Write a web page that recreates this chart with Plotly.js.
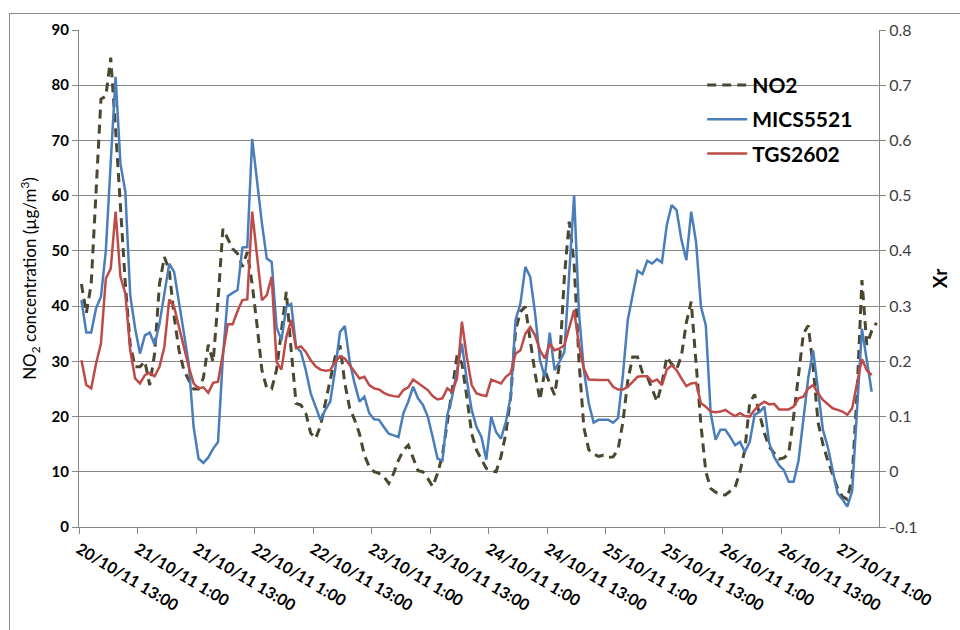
<!DOCTYPE html>
<html>
<head>
<meta charset="utf-8">
<script src="https://cdn.plot.ly/plotly-3.0.1.min.js"></script>
<style>
  html, body { margin: 0; padding: 0; background: #ffffff; overflow: hidden; }
  #frame { position: absolute; left: 9px; top: 13px; width: 1000px; height: 700px; border: 1px solid #8c8c8c; box-sizing: border-box; }
  #chart { position: absolute; left: 0; top: 0; width: 960px; height: 630px; }
</style>
</head>
<body>
<div id="frame"></div>
<div id="chart"></div>
<script>
// Hourly samples starting 20/10/11 13:00
const startUTC = Date.UTC(2011, 9, 20, 13, 0);

// NO2 concentration (µg/m³), left axis
const no2 = [
  44, 38.7, 44, 62, 77.5, 78, 85, 72, 57, 44,
  33, 29, 29, 30, 25.7, 31.4, 44, 48.9, 46.5, 38.1,
  32, 28.4, 26.6, 25, 25, 27, 33, 29.9, 41, 54,
  52.2, 50.4, 49.5, 47.1, 49.8, 44, 36.5, 28.4, 25.1, 25,
  28.5, 36, 42.6, 32, 22.4, 22.1, 20.6, 17, 16, 18.3,
  22.4, 26.6, 30.8, 32.9, 26, 21.5, 19.4, 16.9, 13, 10.9,
  10, 9.7, 9.1, 7.9, 9.7, 12.1, 13.9, 14.8, 12.4, 10.2,
  10, 8.8, 7.3, 9.7, 13, 18.7, 24.8, 31.1, 29.6, 23.6,
  16.9, 13.9, 12.1, 10.6, 10.2, 10, 12.7, 16.9, 23.6, 35.6,
  39, 39.9, 33.8, 27.8, 23, 28.4, 26, 23.9, 29.6, 45.3,
  55.3, 47.7, 30, 18, 14, 13.2, 12.8, 13, 12.6, 12.7,
  14, 19, 26.5, 30.8, 30.8, 28, 27.2, 25, 22.7, 26,
  30.8, 29.5, 28.5, 31, 37, 40.8, 30, 18.5, 10, 7,
  6.3, 5.9, 5.8, 6.5, 7.2, 10, 14, 22.5, 24, 20.5,
  17, 14.5, 13.3, 12.3, 12.5, 13.3, 20, 28, 35, 36.5,
  29, 19, 15, 12, 9.5, 7, 5.5, 5, 9, 24.2,
  44.7, 33, 35.5, 37
];

// MICS5521 response Xr, right axis
const mics = [
  0.311, 0.252, 0.252, 0.296, 0.317, 0.40, 0.56, 0.715, 0.558, 0.507,
  0.32, 0.26, 0.214, 0.247, 0.252, 0.23, 0.268, 0.323, 0.377, 0.362,
  0.305, 0.25, 0.196, 0.081, 0.024, 0.016, 0.026, 0.042, 0.054, 0.208,
  0.318, 0.324, 0.329, 0.406, 0.407, 0.603, 0.522, 0.45, 0.386, 0.38,
  0.262, 0.238, 0.299, 0.304, 0.226, 0.217, 0.184, 0.142, 0.118, 0.094,
  0.112, 0.127, 0.184, 0.253, 0.264, 0.199, 0.16, 0.127, 0.136, 0.106,
  0.095, 0.094, 0.081, 0.069, 0.066, 0.063, 0.106, 0.127, 0.154, 0.133,
  0.121, 0.10, 0.063, 0.024, 0.02, 0.103, 0.136, 0.181, 0.232, 0.166,
  0.112, 0.081, 0.063, 0.022, 0.10, 0.072, 0.06, 0.09, 0.136, 0.275,
  0.305, 0.371, 0.353, 0.287, 0.202, 0.172, 0.252, 0.184, 0.199, 0.217,
  0.353, 0.501, 0.287, 0.184, 0.124, 0.089, 0.094, 0.094, 0.094, 0.089,
  0.097, 0.175, 0.275, 0.32, 0.364, 0.358, 0.382, 0.377, 0.385, 0.379,
  0.447, 0.483, 0.474, 0.42, 0.383, 0.471, 0.416, 0.299, 0.265, 0.106,
  0.058, 0.076, 0.076, 0.063, 0.048, 0.054, 0.036, 0.054, 0.103, 0.108,
  0.118, 0.052, 0.027, 0.012, 0.003, -0.018, -0.018, 0.02, 0.10, 0.17,
  0.22, 0.145, 0.076, 0.045, 0.0, -0.039, -0.05, -0.063, -0.035, 0.12,
  0.259, 0.202, 0.145
];

// TGS2602 response Xr, right axis
const tgs = [
  0.202, 0.157, 0.151, 0.196, 0.232, 0.35, 0.368, 0.471, 0.353, 0.323,
  0.22, 0.169, 0.16, 0.175, 0.179, 0.173, 0.19, 0.226, 0.312, 0.299,
  0.262, 0.226, 0.19, 0.16, 0.151, 0.153, 0.143, 0.161, 0.163, 0.214,
  0.267, 0.267, 0.291, 0.311, 0.312, 0.471, 0.389, 0.311, 0.32, 0.353,
  0.199, 0.185, 0.244, 0.275, 0.224, 0.227, 0.217, 0.202, 0.191, 0.185,
  0.183, 0.184, 0.199, 0.209, 0.205, 0.193, 0.181, 0.169, 0.172, 0.157,
  0.151, 0.149, 0.143, 0.139, 0.137, 0.136, 0.148, 0.153, 0.167, 0.161,
  0.155, 0.148, 0.137, 0.131, 0.133, 0.151, 0.145, 0.169, 0.272, 0.208,
  0.157, 0.142, 0.139, 0.137, 0.167, 0.163, 0.16, 0.172, 0.179, 0.214,
  0.22, 0.25, 0.262, 0.247, 0.22, 0.205, 0.232, 0.22, 0.223, 0.229,
  0.262, 0.293, 0.229, 0.187, 0.167, 0.166, 0.166, 0.166, 0.166, 0.154,
  0.149, 0.149, 0.154, 0.163, 0.172, 0.173, 0.173, 0.163, 0.167, 0.157,
  0.185, 0.193, 0.184, 0.169, 0.155, 0.16, 0.161, 0.124, 0.118, 0.109,
  0.108, 0.109, 0.112, 0.106, 0.101, 0.106, 0.101, 0.10, 0.112, 0.121,
  0.127, 0.122, 0.123, 0.113, 0.113, 0.113, 0.118, 0.133, 0.136, 0.151,
  0.157, 0.142, 0.13, 0.122, 0.115, 0.112, 0.109, 0.103, 0.115, 0.16,
  0.204, 0.184, 0.175
];

// Category axis tick labels (every 12 hours)
const tickLabels = [
  '20/10/11 13:00', '21/10/11 1:00', '21/10/11 13:00', '22/10/11 1:00',
  '22/10/11 13:00', '23/10/11 1:00', '23/10/11 13:00', '24/10/11 1:00',
  '24/10/11 13:00', '25/10/11 1:00', '25/10/11 13:00', '26/10/11 1:00',
  '26/10/11 13:00', '27/10/11 1:00'
];
const y2TickVals = [-0.1, 0, 0.1, 0.2, 0.3, 0.4, 0.5, 0.6, 0.7, 0.8];
const y2TickText = ['-0.1', '0', '0.1', '0.2', '0.3', '0.4', '0.5', '0.6', '0.7', '0.8'];

function hourStr(h) {
  const d = new Date(startUTC + h * 3600000);
  return d.toISOString().slice(0, 19).replace('T', ' ');
}
function timesFor(arr) { return arr.map((_, i) => hourStr(i)); }

const tickVals = tickLabels.map((_, k) => hourStr(12 * k - 0.5));

const FONT = 'Lato, "Open Sans", sans-serif';
const GRID = '#868686';

const traces = [
  { x: timesFor(no2), y: no2, name: 'NO2', type: 'scatter', mode: 'lines',
    legendgroup: 'a', yaxis: 'y',
    line: { color: '#4b4730', width: 3, dash: '9px,6px' } },
  { x: timesFor(mics), y: mics, name: 'MICS5521', type: 'scatter', mode: 'lines',
    legendgroup: 'b', yaxis: 'y2',
    line: { color: '#4a7ebb', width: 2.5 } },
  { x: timesFor(tgs), y: tgs, name: 'TGS2602', type: 'scatter', mode: 'lines',
    legendgroup: 'c', yaxis: 'y2',
    line: { color: '#be4b48', width: 2.5 } }
];

const layout = {
  width: 960, height: 630,
  margin: { l: 79, r: 81, t: 30, b: 103 },
  paper_bgcolor: 'rgba(0,0,0,0)',
  plot_bgcolor: '#ffffff',
  font: { family: FONT, color: '#000' },
  showlegend: true,
  legend: {
    x: 0.779, y: 0.93, xanchor: 'left', yanchor: 'top',
    bgcolor: 'rgba(0,0,0,0)', borderwidth: 0,
    font: { family: FONT, size: 21, color: '#000', weight: 'bold' },
    itemwidth: 40,
    tracegroupgap: 4, traceorder: 'grouped'
  },
  xaxis: {
    type: 'date',
    range: [hourStr(-0.5), hourStr(163.5)],
    tickmode: 'array', tickvals: tickVals, ticktext: tickLabels,
    tickangle: 31,
    ticks: 'outside', ticklen: 6, tickcolor: GRID,
    showline: true, linecolor: GRID, linewidth: 1,
    showgrid: false, zeroline: false,
    tickfont: { family: FONT, size: 16, color: '#000', weight: 'bold' },
    fixedrange: true
  },
  yaxis: {
    range: [0, 90], dtick: 10, tick0: 0,
    showgrid: true, gridcolor: GRID, gridwidth: 1,
    showline: true, linecolor: GRID, linewidth: 1,
    ticks: 'outside', ticklen: 6, tickcolor: GRID,
    zeroline: false,
    tickfont: { family: FONT, size: 15, color: '#000', weight: 'bold' },
    title: { text: 'NO<sub>2</sub> concentration (µg/m<sup>3</sup>)',
             font: { family: FONT, size: 17, color: '#000' }, standoff: 10 },
    fixedrange: true
  },
  yaxis2: {
    overlaying: 'y', side: 'right',
    range: [-0.1, 0.8],
    tickmode: 'array', tickvals: y2TickVals, ticktext: y2TickText,
    showgrid: false, zeroline: false,
    showline: true, linecolor: GRID, linewidth: 1,
    ticks: 'outside', ticklen: 6, tickcolor: GRID,
    tickfont: { family: FONT, size: 16, color: '#404040' },
    title: { text: 'Xr', font: { family: FONT, size: 19, color: '#000', weight: 'bold' }, standoff: 17 },
    fixedrange: true
  }
};

Plotly.newPlot('chart', traces, layout, { displayModeBar: false, staticPlot: true });
</script>
</body>
</html>
